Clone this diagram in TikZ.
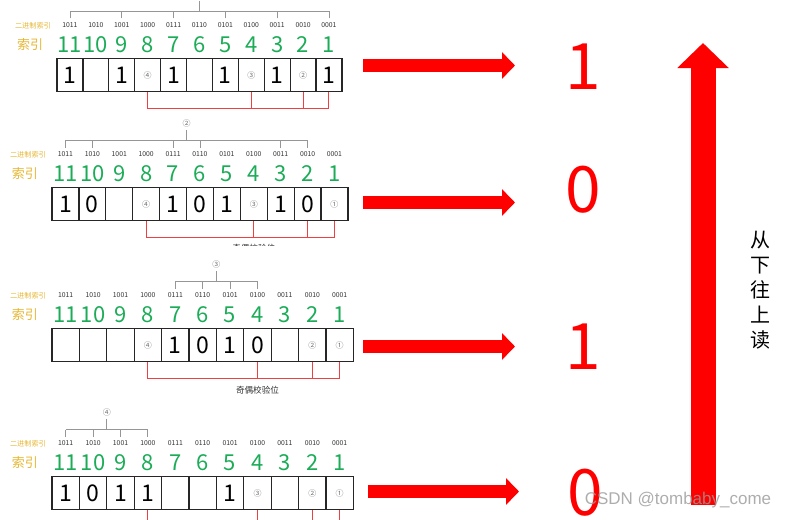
\documentclass[tikz,border=0pt]{standalone}
\usepackage{fontspec}
\setmainfont{Noto Sans CJK SC}
\newfontfamily\wmfont{Liberation Sans}
\usetikzlibrary{arrows.meta,positioning,calc}
\definecolor{idxgreen}{RGB}{28,172,88}
\definecolor{lblgold}{RGB}{230,182,50}
\definecolor{brgray}{RGB}{150,150,150}
\definecolor{chkred}{RGB}{238,64,64}

\begin{document}
\begin{tikzpicture}[x=1pt, y=-1pt,
  cell/.style={draw=black!85, line width=1.2pt, minimum height=33pt, inner sep=0pt},
  bit/.style={font=\fontsize{23}{23}\selectfont, inner sep=0pt},
  qbit/.style={font=\fontsize{8}{8}\selectfont, text=black!55, inner sep=0pt},
  binlbl/.style={font=\fontsize{6.8}{7}\selectfont, text=black!80, inner sep=0pt},
  idx/.style={font=\fontsize{22}{22}\selectfont, text=idxgreen, inner sep=0pt},
  gold/.style={text=lblgold, inner sep=0pt},
  tick/.style={draw=brgray, line width=0.9pt},
  chk/.style={draw=chkred, line width=1pt},
  chklbl/.style={font=\fontsize{8.6}{9}\selectfont, text=black!80, inner sep=0pt},
  bigbit/.style={font=\fontsize{64}{64}\selectfont, text=red, inner sep=0pt},
  harr/.style={draw=red, line width=13pt, -{Triangle[length=13pt, width=26pt]}},
  varr/.style={draw=red, line width=25pt, -{Triangle[length=25pt, width=50pt]}}
]
  \useasboundingbox (0,0) rectangle (786,519);

  % four rows of cells with binary and decimal index
  \foreach \p/\lx/\w/\ty in {a/57/25.9/58, b/52/26.9/187, c/52/27.4/328, d/52/27.4/476} {
    \foreach \i/\b [count=\k] in {11/1011,10/1010,9/1001,8/1000,7/0111,6/0110,5/0101,4/0100,3/0011,2/0010,1/0001} {
      \node[cell, minimum width=\w pt, anchor=north] (\p\i) at ({\lx+(\k-0.5)*\w}, \ty) {};
      \node[binlbl] (\p b\i) at ($(\p\i.north)+(0,-32.5)$) {\b};
      \node[idx] (\p x\i) at ($(\p\i.north)+(0,-13)$) {\i};
    }
    \node[gold, font=\fontsize{7.2}{8}\selectfont] (\p bin) at (\lx-24, \ty-32.5) {二进制索引};
    \node[gold, font=\fontsize{13}{13}\selectfont] (\p idx) at (\lx-27, \ty-13) {索引};
  }

  % cell values
  \foreach \i/\t in {11/1,9/1,7/1,5/1,3/1,1/1} \node[bit] (av\i) at (a\i) {\t};
  \foreach \i/\t in {8/④,4/③,2/②} \node[qbit] (av\i) at (a\i) {\t};
  \foreach \i/\t in {11/1,10/0,7/1,6/0,5/1,3/1,2/0} \node[bit] (bv\i) at (b\i) {\t};
  \foreach \i/\t in {8/④,4/③,1/①} \node[qbit] (bv\i) at (b\i) {\t};
  \foreach \i/\t in {7/1,6/0,5/1,4/0} \node[bit] (cv\i) at (c\i) {\t};
  \foreach \i/\t in {8/④,2/②,1/①} \node[qbit] (cv\i) at (c\i) {\t};
  \foreach \i/\t in {11/1,10/0,9/1,8/1,5/1} \node[bit] (dv\i) at (d\i) {\t};
  \foreach \i/\t in {4/③,2/②,1/①} \node[qbit] (dv\i) at (d\i) {\t};

  % grey brackets over the covered positions
  \foreach \p/\q/\first/\last/\list in {a/①/11/1/{11,9,7,5,3,1}, b/②/11/2/{11,10,7,6,3,2},
      c/③/7/4/{7,6,5,4}, d/④/11/8/{11,10,9,8}} {
    \foreach \i in \list { \draw[tick] ($(\p\i.north)+(0,-39.5)$) -- ($(\p\i.north)+(0,-46.5)$); }
    \draw[tick] ($(\p\first.north)+(0,-46.5)$) -- ($(\p\last.north)+(0,-46.5)$);
    \node[qbit] (\p q) at ($(\p\first.north)!0.5!(\p\last.north)+(0,-64)$) {\q};
    \draw[tick] ([yshift=-3pt]\p q.south) -- ($(\p\first.north)!0.5!(\p\last.north)+(0,-46.5)$);
  }

  % red brackets under the parity bits
  \foreach \p in {a,b,c,d} {
    \foreach \i in {8,4,2,1} { \draw[chk] (\p\i.south) -- ++(0,16.5); }
    \draw[chk] ($(\p8.south)+(0,16.5)$) -- ($(\p1.south)+(0,16.5)$);
  }
  \node[chklbl] (clbl) at ($(c4.south)+(0,28)$) {奇偶校验位};
  \begin{scope}
    \clip (0,0) rectangle (786,245.5);
    \node[chklbl] (blbl) at ($(b4.south)+(0,27)$) {奇偶校验位};
  \end{scope}

  % results
  \node[bigbit] (r1) at (583,67) {1};
  \node[bigbit] (r2) at (583,190) {0};
  \node[bigbit] (r3) at (583,347) {1};
  \node[bigbit] (r4) at (585,493) {0};

  \coordinate (s1) at (363,65.5);  \coordinate (e1) at (515,65.5);
  \coordinate (s2) at (363,202.5); \coordinate (e2) at (515,202.5);
  \coordinate (s3) at (363,346.5); \coordinate (e3) at (515,346.5);
  \coordinate (s4) at (368,491.5); \coordinate (e4) at (519,491.5);
  \foreach \n in {1,2,3,4} { \draw[harr] (s\n) -- (e\n); }

  \coordinate (up0) at (703,505);
  \coordinate (up1) at (703,43);
  \draw[varr] (up0) -- (up1);
  \node[font=\fontsize{20}{25}\selectfont, align=center, inner sep=0pt] (rd) at (760,290) {从\\下\\往\\上\\读};

  \node[font=\wmfont\fontsize{17}{17}\selectfont, text=black!40, opacity=0.8] (wm) at (678,500) {CSDN @tombaby\_come};
\end{tikzpicture}
\end{document}
